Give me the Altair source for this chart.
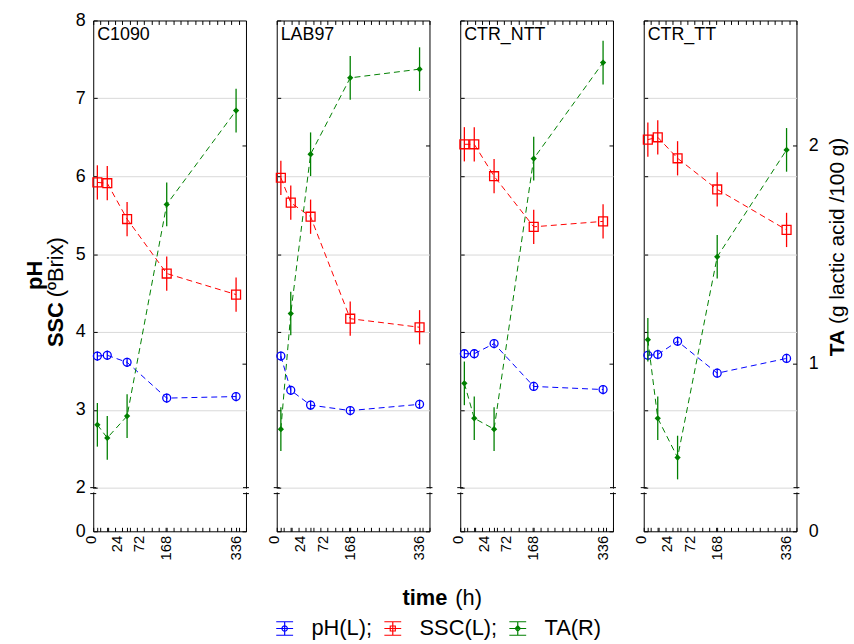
import altair as alt
import pandas as pd

FONT = "Liberation Sans"

# ---------------- data ----------------
samples = ["C1090", "LAB97", "CTR_NTT", "CTR_TT"]
times = [0, 24, 72, 168, 336]
series_names = ["pH(L);", "SSC(L);", "TA(R)"]
series_colors = ["#0000ff", "#ff0000", "#008000"]

ph_c1090 = [3.69, 3.70, 3.61, 3.15, 3.17]
ph_lab97 = [3.69, 3.25, 3.06, 2.99, 3.07]
ph_ctr_ntt = [3.72, 3.72, 3.85, 3.30, 3.26]
ph_ctr_tt = [3.70, 3.71, 3.88, 3.47, 3.66]

ssc_c1090 = [5.92, 5.91, 5.45, 4.75, 4.48]
ssc_lab97 = [5.98, 5.66, 5.48, 4.17, 4.06]
ssc_ctr_ntt = [6.41, 6.41, 6.00, 5.35, 5.42]
ssc_ctr_tt = [6.47, 6.50, 6.23, 5.83, 5.31]

ta_c1090 = [0.72, 0.66, 0.76, 1.73, 2.16]
ta_lab97 = [0.70, 1.23, 1.96, 2.31, 2.35]
ta_ctr_ntt = [0.91, 0.75, 0.70, 1.94, 2.38]
ta_ctr_tt = [1.11, 0.75, 0.57, 1.49, 1.98]

ph_err = [0.06, 0.06, 0.06, 0.06, 0.06]
ssc_err = [0.22, 0.22, 0.22, 0.22, 0.22]
ta_err = [0.10, 0.10, 0.10, 0.10, 0.10]

x_label_values = [0, 24, 72, 168, 336]
left_tick_values = [0, 2, 3, 4, 5, 6, 7, 8]
right_tick_values = [0, 1, 2]
break_values = [1.9, 2]
break_gap = [1.92, 1.98]

left_title_a = "pH"
left_title_b = "SSC"
left_title_c = "(ºBrix)"
right_title_a = "TA"
right_title_b = "(g lactic acid /100 g)"
x_title_a = "time"
x_title_b = "(h)"

# ---------------- layout constants ----------------
W, H = 154, 515
Y_RANGE = [515, 477, 471, 0]
X_SCALE = alt.Scale(domain=[-10, 360], nice=False, zero=False)
LEFT_SCALE = alt.Scale(domain=[0, 1.9, 2, 8], range=Y_RANGE, nice=False, zero=False)
RIGHT_SCALE = alt.Scale(domain=[0, 0.4, 0.432, 2.573], range=Y_RANGE, nice=False, zero=False)
INWARD = {"expr": "-4"}
minor_ticks = [round(-10 + i * 370 / 21, 2) for i in range(22)]

label_offset = {
    "condition": [
        {"test": "datum.value == 0", "value": -7},
        {"test": "datum.value == 24", "value": 9},
        {"test": "datum.value == 72", "value": 12},
    ],
    "value": -1,
}

X_BOTTOM = alt.Axis(
    orient="bottom", values=minor_ticks + x_label_values,
    labelExpr="indexof([0, 24, 72, 168, 336], datum.value) >= 0 ? datum.label : ''",
    labelAngle=270, labelFontSize=15, labelFont=FONT, labelColor="black",
    labelPadding=8, labelOverlap=False, labelFlush=False, labelOffset=label_offset,
    tickSize=INWARD, tickColor="black", domain=False, grid=False, title=None,
)
X_TOP = alt.Axis(
    orient="top", values=minor_ticks, labels=False, tickSize=INWARD,
    tickColor="black", domain=False, grid=False, title=None,
)


def y_left(show):
    return alt.Axis(
        orient="left", values=left_tick_values, labels=show, labelFontSize=18,
        labelFont=FONT, labelColor="black", labelPadding=12, tickSize=INWARD,
        tickColor="black", grid=True, gridColor="#d9d9d9",
        gridOpacity={"condition": {"test": "datum.value == 0 || datum.value == 8", "value": 0}, "value": 1},
        domain=False, title=None,
    )


def y_right(show):
    return alt.Axis(
        orient="right", values=right_tick_values, labels=show, labelFontSize=18,
        labelFont=FONT, labelColor="black", labelPadding=16, tickSize=INWARD,
        tickColor="black", grid=False, domain=False, title=None,
    )


def make_df(sample, ph, ssc, ta):
    rows = []
    for name, vals, errs in ((series_names[0], ph, ph_err),
                             (series_names[1], ssc, ssc_err),
                             (series_names[2], ta, ta_err)):
        for t, v, e in zip(times, vals, errs):
            rows.append({"sample": sample, "time": t, "series": name,
                         "value": v, "lo": v - e, "hi": v + e})
    return pd.DataFrame(rows)


def text(txt, x, y, size, weight="normal", align="left", angle=0):
    return alt.Chart(pd.DataFrame({"t": [txt]})).mark_text(
        align=align, baseline="middle", fontSize=size, fontWeight=weight,
        angle=angle, font=FONT, color="black",
    ).encode(x=alt.value(x), y=alt.value(y), text="t:N")


def series_layers(d, color, shape, size, filled, scale, yaxis, xaxis):
    base = alt.Chart(d).encode(x=alt.X("time:Q", scale=X_SCALE, axis=xaxis))
    line = base.mark_line(color=color, strokeDash=[6, 4], strokeWidth=1).encode(
        y=alt.Y("value:Q", scale=scale, axis=yaxis))
    bars = base.mark_rule(color=color, strokeWidth=1.3).encode(
        y=alt.Y("lo:Q", scale=scale, axis=yaxis), y2="hi:Q")
    pts = base.mark_point(shape=shape, size=size, filled=filled, color=color,
                          strokeWidth=1.3, opacity=1).encode(
        y=alt.Y("value:Q", scale=scale, axis=yaxis))
    return [line, bars, pts]


legend_paths = [
    "M-1,-0.8H1M-1,0H1M-1,0.8H1M0,-0.8V0.8M0.32,0A0.32,0.32 0 1,1 -0.32,0A0.32,0.32 0 1,1 0.32,0Z",
    "M-1,-0.8H1M-1,0H1M-1,0.8H1M0,-0.8V0.8M-0.3,-0.3H0.3V0.3H-0.3Z",
    "M-1,-0.8H1M-1,0H1M-1,0.8H1M0,-0.8V0.8M0,-0.35L0.3,0L0,0.35L-0.3,0Z",
]

LEGEND = alt.Legend(
    orient="none", legendX=182, legendY=602, direction="horizontal", title=None,
    labelFontSize=22, labelFont=FONT, labelColor="black", symbolSize=289,
    symbolStrokeWidth=1.2, symbolOpacity=1, labelOffset=16, columnPadding=9,
    padding=0,
)


def panel(idx, sample, ph, ssc, ta):
    d = make_df(sample, ph, ssc, ta)
    ya = y_left(idx == 0)
    yb = y_right(idx == 3)
    d_ph = d[d.series == series_names[0]]
    d_ssc = d[d.series == series_names[1]]
    d_ta = d[d.series == series_names[2]]

    left_layers = []
    left_layers += series_layers(d_ph, series_colors[0], "circle", 64, False, LEFT_SCALE, ya, X_BOTTOM)
    left_layers += series_layers(d_ssc, series_colors[1], "square", 81, False, LEFT_SCALE, ya, X_BOTTOM)

    gap = pd.DataFrame({"g0": [break_gap[0]], "g1": [break_gap[1]]})
    for x0 in (0, W):
        left_layers.append(
            alt.Chart(gap).mark_rule(color="white", strokeWidth=3).encode(
                y=alt.Y("g0:Q", scale=LEFT_SCALE, axis=ya), y2="g1:Q",
                x=alt.value(x0)))

    brk = pd.DataFrame({"b": break_values})
    for x0 in (-3, W - 3):
        left_layers.append(
            alt.Chart(brk).mark_rule(color="black", strokeWidth=1).encode(
                y=alt.Y("b:Q", scale=LEFT_SCALE, axis=ya),
                x=alt.value(x0), x2=alt.value(x0 + 6)))

    left_layers.append(text(sample, 4, 15, 18))

    if idx == 0:
        left_layers.append(
            alt.Chart(d).mark_point(opacity=0, filled=False, size=289).encode(
                x=alt.X("time:Q", scale=X_SCALE, axis=X_BOTTOM),
                y=alt.Y("value:Q", scale=LEFT_SCALE, axis=ya),
                color=alt.Color("series:N", scale=alt.Scale(domain=series_names, range=series_colors), legend=LEGEND),
                shape=alt.Shape("series:N", scale=alt.Scale(domain=series_names, range=legend_paths), legend=LEGEND),
            ))
        left_layers.append(text(left_title_a, -59, 257, 22, "bold", "center", 270))
        left_layers.append(text(left_title_b, -37, 284, 22, "bold", "right", 270))
        left_layers.append(text(left_title_c, -37, 279, 22, "normal", "left", 270))
    if idx == 1:
        left_layers.append(text(x_title_a, 172, 582, 22, "bold", "right"))
        left_layers.append(text(x_title_b, 180, 582, 22, "normal", "left"))

    right_layers = series_layers(d_ta, series_colors[2], "diamond", 40, True, RIGHT_SCALE, yb, X_TOP)
    if idx == 3:
        right_layers.append(text(right_title_a, 196, 312, 21, "bold", "right", 270))
        right_layers.append(text(right_title_b, 196, 306, 21, "normal", "left", 270))

    left = alt.layer(*left_layers)
    right = alt.layer(*right_layers)
    return alt.layer(left, right).resolve_scale(y="independent").resolve_axis(
        x="independent").properties(width=W, height=H)


panels = [
    panel(0, samples[0], ph_c1090, ssc_c1090, ta_c1090),
    panel(1, samples[1], ph_lab97, ssc_lab97, ta_lab97),
    panel(2, samples[2], ph_ctr_ntt, ssc_ctr_ntt, ta_ctr_ntt),
    panel(3, samples[3], ph_ctr_tt, ssc_ctr_tt, ta_ctr_tt),
]

chart = alt.hconcat(*panels, spacing=31, bounds="flush").properties(
    padding={"left": 23, "top": 8, "right": 5, "bottom": 5},
    background="white",
).configure_view(stroke="black", strokeWidth=1)

chart.save("out.html", embed_options={"renderer": "svg", "actions": False})
